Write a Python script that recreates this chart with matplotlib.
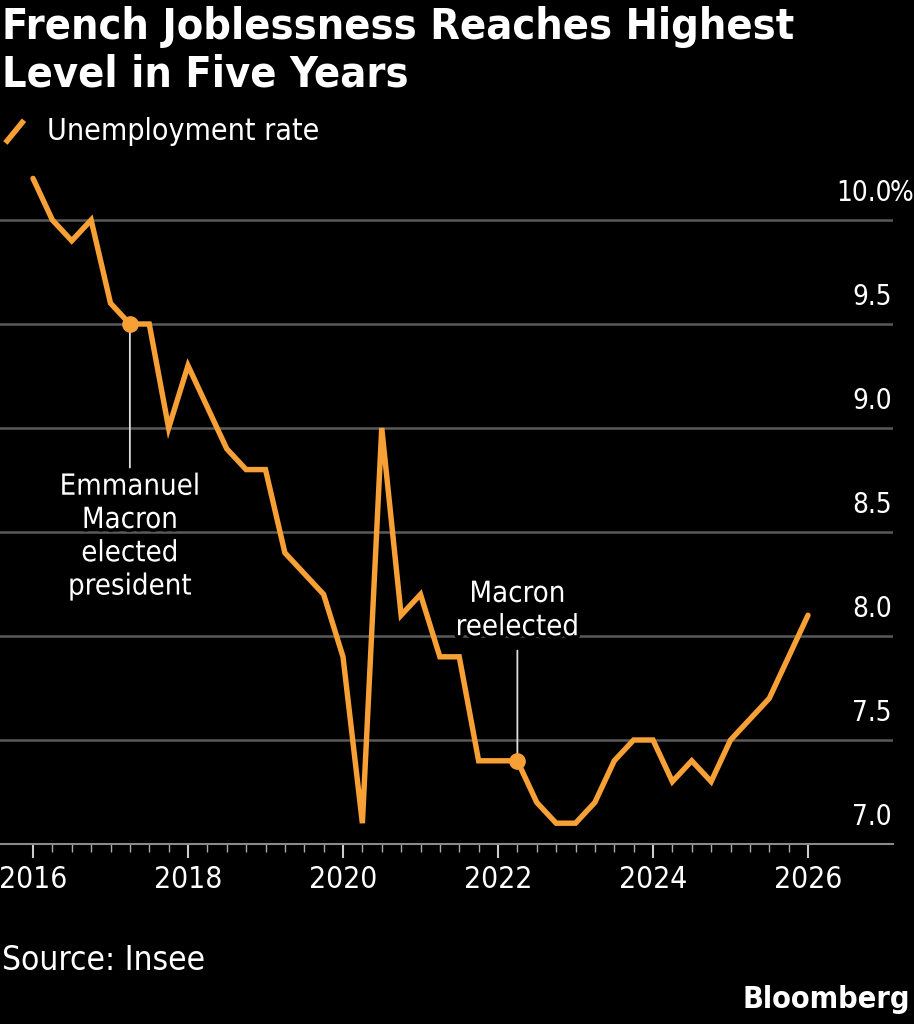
import matplotlib
matplotlib.use("Agg")
import matplotlib.pyplot as plt
import matplotlib.patheffects as pe
from matplotlib.lines import Line2D

# ---- data ----
quarters = [2016 + 0.25 * i for i in range(41)]
unemployment = [10.2, 10.0, 9.9, 10.0, 9.6, 9.5, 9.5, 9.0, 9.3, 9.1,
                8.9, 8.8, 8.8, 8.4, 8.3, 8.2, 7.9, 7.1, 9.0, 8.1,
                8.2, 7.9, 7.9, 7.4, 7.4, 7.4, 7.2, 7.1, 7.1, 7.2,
                7.4, 7.5, 7.5, 7.3, 7.4, 7.3, 7.5, 7.6, 7.7, 7.9, 8.1]
y_ticks = [7.0, 7.5, 8.0, 8.5, 9.0, 9.5, 10.0]
y_tick_labels = ["7.0", "7.5", "8.0", "8.5", "9.0", "9.5", "10.0"]
x_ticks = [2016, 2018, 2020, 2022, 2024, 2026]
x_tick_labels = ["2016", "2018", "2020", "2022", "2024", "2026"]
events_x = [2017.25, 2022.25]
events_y = [9.5, 7.4]
events_text = ["Emmanuel\nMacron\nelected\npresident", "Macron\nreelected"]

ORANGE = "#F7A035"
GRID = "#5a5a5a"
plt.rcParams['font.family'] = ["DejaVu Sans"]
plt.rcParams['font.stretch'] = "condensed"
COND = dict(fontstretch="condensed")

W, H = 914, 1024
fig = plt.figure(figsize=(W / 100, H / 100), dpi=100, facecolor="black")

ax_left, ax_right, ax_top, ax_bottom = 0, 893, 165, 844
ax = fig.add_axes([ax_left / W, 1 - ax_bottom / H, (ax_right - ax_left) / W, (ax_bottom - ax_top) / H])
ax.set_facecolor("black")

px_per_year = 77.5
x0 = 2016 - (33 - ax_left) / px_per_year
x1 = 2016 + (ax_right - 33) / px_per_year
ax.set_xlim(x0, x1)
px_per_unit = 208
ax.set_ylim(7.0, 7.0 + (ax_bottom - ax_top) / px_per_unit)

for s in ["top", "right", "left"]:
    ax.spines[s].set_visible(False)
ax.spines["bottom"].set_color("#8a8a8a")
ax.spines["bottom"].set_linewidth(1.5)

for yv in y_ticks[1:]:
    ax.axhline(yv, color=GRID, lw=1.8, zorder=1)
ax.set_yticks([])

for yv, lab in zip(y_ticks, y_tick_labels):
    ax.annotate(lab, xy=(1, yv), xycoords=("axes fraction", "data"),
                xytext=(-1, 9.5), textcoords="offset points",
                ha="right", va="bottom", color="white", fontsize=20, **COND)
ax.annotate("%", xy=(1, y_ticks[-1]), xycoords=("axes fraction", "data"),
            xytext=(-2.5, 9.5), textcoords="offset points",
            ha="left", va="bottom", color="white", fontsize=20, **COND)

ax.set_xticks(x_ticks)
ax.set_xticklabels(x_tick_labels, color="white", fontsize=21.5, **COND)
ax.set_xticks(quarters, minor=True)
ax.tick_params(axis="x", which="major", length=10, width=1.5, color="#cccccc", pad=5)
ax.tick_params(axis="x", which="minor", length=6, width=1.0, color="#aaaaaa")

ax.plot(quarters, unemployment, color=ORANGE, lw=3.9, solid_joinstyle="miter",
        solid_capstyle="round", zorder=3, clip_on=False)

halo = [pe.withStroke(linewidth=5, foreground="black")]
ax.plot(events_x, events_y, "o", color=ORANGE, ms=11, zorder=4)
ax.annotate("", xy=(events_x[0], events_y[0]), xytext=(events_x[0], 8.81),
            arrowprops=dict(arrowstyle="-", color="#dddddd", lw=1.3, shrinkA=0, shrinkB=0), zorder=2)
ax.text(events_x[0], 8.785, events_text[0], ha="center", va="top", color="white",
        fontsize=21, linespacing=1.24, path_effects=halo, zorder=5, **COND)
ax.annotate("", xy=(events_x[1], events_y[1]), xytext=(events_x[1], 7.93),
            arrowprops=dict(arrowstyle="-", color="#dddddd", lw=1.3, shrinkA=0, shrinkB=0), zorder=2)
ax.text(events_x[1], 7.975, events_text[1], ha="center", va="bottom", color="white",
        fontsize=21, linespacing=1.24, path_effects=halo, zorder=5, **COND)

fig.text(2 / W, 1 - 6 / H, "French Joblessness Reaches Highest\nLevel in Five Years",
         ha="left", va="top", color="white", fontsize=31, fontweight="bold",
         linespacing=1.16, **COND)

leg_ax = fig.add_axes([0, 1 - 150 / H, 30 / W, 35 / H])
leg_ax.set_axis_off()
leg_ax.set_xlim(0, 1); leg_ax.set_ylim(0, 1)
leg_ax.add_line(Line2D([0.18, 0.8], [0.2, 0.85], color=ORANGE, lw=4, solid_capstyle="butt"))
fig.text(47 / W, 1 - 131 / H, "Unemployment rate", ha="left", va="center",
         color="white", fontsize=21.7, **COND)

fig.text(2 / W, 1 - 960 / H, "Source: Insee", ha="left", va="center", color="white",
         fontsize=24, **COND)
fig.text(910 / W, 1 - 1000 / H, "Bloomberg", ha="right", va="center", color="white",
         fontsize=22, fontweight="bold", **COND)

fig.savefig("out.png", dpi=100, facecolor="black")
